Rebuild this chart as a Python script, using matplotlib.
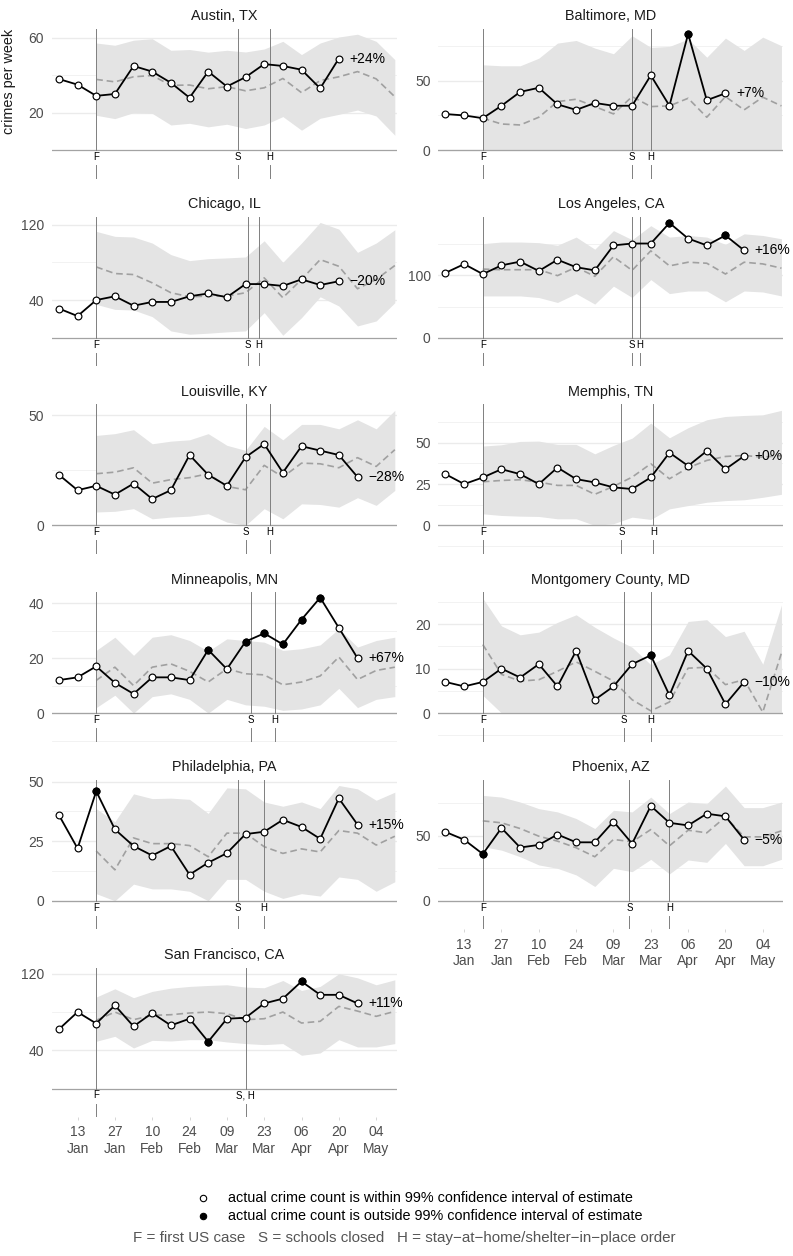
import pandas as pd
import matplotlib
matplotlib.use('Agg')
import matplotlib.pyplot as plt
import matplotlib.dates as mdates
from matplotlib.lines import Line2D

plt.rcParams['font.family'] = ['Liberation Sans', 'DejaVu Sans']

# weekly x positions (first actual count = week of 6 Jan 2020), ticks every 2 weeks
week_dates = pd.date_range('2020-01-06', '2020-05-11', freq='7D')
tick_dates = pd.date_range('2020-01-13', '2020-05-04', freq='14D')

# ---- data ---------------------------------------------------------------
# actual weekly counts start on 6 Jan; expected / interval start on 20 Jan (F)
austin_actual = [38, 35, 29, 30, 45, 42, 36, 28, 42, 34, 39, 46, 45, 43, 33, 49]
austin_outside = []
austin_expected = [37.8, 36.5, 39.2, 39.9, 34.6, 34.8, 32.8, 33.9, 31.7, 33.3, 38.3, 30.7, 37.2, 39.2, 42.0, 38.1, 28.5]
austin_high = [57.3, 56.1, 58.8, 59.6, 53.4, 53.8, 52.4, 53.4, 52.5, 54.1, 58.2, 51.1, 57.3, 60.5, 62.0, 58.2, 48.4]
austin_low = [18.6, 16.8, 20.0, 19.6, 13.4, 14.3, 12.4, 13.8, 11.5, 13.4, 17.9, 10.6, 17.0, 19.1, 21.4, 18.2, 7.9]
austin_events = [('F', '2020-01-20'), ('S', '2020-03-13'), ('H', '2020-03-25')]

baltimore_actual = [26, 25, 23, 32, 42, 45, 33, 29, 34, 32, 32, 54, 32, 84, 36, 41]
baltimore_outside = [13]
baltimore_expected = [23.0, 18.8, 18.1, 23.7, 35.0, 36.7, 31.4, 26.1, 38.6, 31.4, 31.9, 37.4, 23.7, 38.6, 29.0, 38.2, 31.9]
baltimore_high = [61.6, 60.9, 60.9, 66.4, 77.3, 79.2, 73.7, 69.6, 82.6, 74.2, 74.9, 80.2, 67.1, 80.9, 72.0, 81.6, 75.4]
baltimore_low = [0, 0, 0, 0, 0, 0, 0, 0, 0, 0, 0, 0, 0, 0, 0, 0, 0]
baltimore_events = [('F', '2020-01-20'), ('S', '2020-03-16'), ('H', '2020-03-23')]

chicago_actual = [31, 23, 40, 44, 34, 38, 38, 44, 47, 43, 57, 57, 55, 62, 56, 60]
chicago_outside = []
chicago_expected = [75.2, 68.2, 67.1, 58.3, 47.8, 43.5, 44.2, 44.2, 47.8, 63.6, 42.5, 61.9, 83.0, 75.9, 52.0, 61.9, 76.7]
chicago_high = [113.0, 107.7, 107.0, 100.6, 88.3, 81.9, 84.0, 84.8, 85.8, 103.0, 80.2, 100.6, 122.5, 115.4, 90.7, 100.6, 114.7]
chicago_low = [35.4, 30.1, 29.4, 22.4, 7.2, 3.7, 4.8, 6.2, 7.2, 26.6, 2.6, 21.3, 43.5, 33.7, 12.5, 17.8, 37.2]
chicago_events = [('F', '2020-01-20'), ('S', '2020-03-17'), ('H', '2020-03-21')]

la_actual = [104, 118, 102, 116, 122, 107, 125, 113, 108, 148, 151, 151, 184, 159, 148, 164, 140]
la_outside = [12, 15]
la_expected = [110, 109, 109, 109, 99.5, 113, 98.4, 129.8, 107.9, 139.3, 115.2, 121, 119.4, 102.1, 121, 118.3, 111.5]
la_high = [150.8, 153.4, 153.4, 152.4, 148.2, 161.3, 141.9, 171.7, 157.1, 179.6, 161.3, 163.9, 161.3, 149.7, 166.5, 163.9, 158.6]
la_low = [67, 67, 67, 64.4, 56.5, 70.7, 53.9, 82.7, 64.4, 93.2, 70.7, 74.9, 74.9, 57.6, 74.9, 73.3, 67]
la_events = [('F', '2020-01-20'), ('S', '2020-03-16'), ('H', '2020-03-19')]

louisville_actual = [23, 16, 18, 14, 19, 12, 16, 32, 23, 18, 31, 37, 24, 36, 34, 32, 22]
louisville_outside = []
louisville_expected = [23.5, 24.2, 26.2, 19.2, 20.8, 21.7, 23.5, 17.7, 16.2, 27.3, 22.0, 28.3, 28.0, 26.2, 30.8, 26.8, 34.4]
louisville_high = [40.9, 41.7, 43.5, 37.1, 38.3, 38.9, 41.7, 36.4, 34.1, 45.0, 38.9, 45.9, 45.9, 43.9, 48.0, 43.9, 52.3]
louisville_low = [6.1, 6.4, 7.6, 3.0, 3.8, 4.2, 5.3, 1.5, 0.0, 7.6, 3.0, 9.8, 9.5, 8.3, 12.6, 9.1, 15.9]
louisville_events = [('F', '2020-01-20'), ('S', '2020-03-16'), ('H', '2020-03-25')]

memphis_actual = [31, 25, 29, 34, 31, 25, 35, 28, 26, 23, 22, 29, 44, 36, 45, 34, 42]
memphis_outside = []
memphis_expected = [26.4, 27.2, 27.6, 26.2, 24.2, 24.2, 18.8, 23.6, 29.2, 37.3, 28.2, 34.9, 39.3, 41.7, 42.3, 41.3, 42.3]
memphis_high = [48.0, 48.8, 50.8, 51.0, 49.0, 49.0, 43.3, 48.4, 52.8, 61.9, 53.0, 59.1, 63.9, 65.9, 66.5, 66.9, 69.6]
memphis_low = [7.0, 6.0, 5.6, 5.4, 4.0, 4.0, 0.0, 1.0, 5.0, 3.6, 10.0, 12.0, 14.0, 15.0, 15.5, 17.0, 18.8]
memphis_events = [('F', '2020-01-20'), ('S', '2020-03-12'), ('H', '2020-03-24')]

minneapolis_actual = [12, 13, 17, 11, 7, 13, 13, 12, 23, 16, 26, 29, 25, 34, 42, 31, 20]
minneapolis_outside = [8, 10, 11, 12, 13, 14]
minneapolis_expected = [11.9, 16.7, 10.0, 16.7, 17.9, 15.2, 11.3, 16.1, 14.3, 13.9, 10.3, 11.3, 13.5, 20.4, 12.2, 15.5, 16.7]
minneapolis_high = [22.8, 27.6, 21.0, 27.6, 28.5, 26.4, 22.5, 27.0, 26.4, 25.8, 22.8, 23.4, 24.8, 30.7, 24.0, 26.4, 27.6]
minneapolis_low = [2.0, 6.5, 0.0, 6.0, 7.0, 5.0, 0.0, 5.0, 3.0, 2.5, 1.0, 1.5, 3.0, 9.0, 2.0, 5.0, 6.0]
minneapolis_events = [('F', '2020-01-20'), ('S', '2020-03-18'), ('H', '2020-03-27')]

montgomery_actual = [7, 6, 7, 10, 8, 11, 6, 14, 3, 6, 11, 13, 4, 14, 10, 2, 7]
montgomery_outside = [11]
montgomery_expected = [15.4, 8.7, 7.2, 7.5, 9.4, 11.5, 9.4, 7.2, 3.0, 0.5, 2.5, 10.1, 10.3, 6.4, 7.5, 0.2, 13.5]
montgomery_high = [25.8, 19.6, 17.6, 18.2, 20.4, 22.1, 19.3, 16.9, 14.8, 10.9, 13.1, 20.6, 21.0, 17.2, 18.4, 11.0, 24.3]
montgomery_low = [4.0, 0, 0, 0, 0, 0, 0, 0, 0, 0, 0, 0, 0, 0, 0, 0, 0]
montgomery_events = [('F', '2020-01-20'), ('S', '2020-03-13'), ('H', '2020-03-23')]

philadelphia_actual = [36, 22, 46, 30, 23, 19, 23, 11, 16, 20, 28, 29, 34, 31, 26, 43, 32]
philadelphia_outside = [2]
philadelphia_expected = [20.9, 13.0, 26.4, 24.0, 24.0, 23.2, 18.5, 28.4, 28.4, 22.7, 19.9, 21.8, 20.5, 29.5, 28.4, 23.4, 27.1]
philadelphia_high = [38.7, 33.2, 44.9, 42.9, 43.1, 42.6, 36.7, 47.4, 47.0, 41.5, 39.7, 41.5, 38.7, 48.4, 47.0, 42.2, 45.6]
philadelphia_low = [3, 0, 7, 5, 5, 4, 0, 9, 9, 4, 1, 3, 2, 10, 9, 4, 8]
philadelphia_events = [('F', '2020-01-20'), ('S', '2020-03-13'), ('H', '2020-03-23')]

phoenix_actual = [53, 47, 36, 56, 41, 43, 51, 45, 45, 61, 44, 73, 60, 58, 67, 65, 47]
phoenix_outside = [2]
phoenix_expected = [61.5, 60.0, 55.6, 49.7, 45.9, 40.8, 33.9, 47.2, 45.4, 54.8, 42.3, 54.3, 52.3, 64.5, 49.2, 49.2, 53.8]
phoenix_high = [81.1, 79.8, 76.0, 70.9, 68.4, 63.3, 55.6, 69.6, 68.4, 79.8, 67.1, 76.0, 74.7, 88.3, 71.7, 71.7, 76.0]
phoenix_low = [41.6, 39.0, 33.9, 27.6, 25.0, 19.9, 11.0, 25.0, 22.4, 31.9, 20.7, 31.4, 29.6, 44.1, 27.0, 27.0, 31.9]
phoenix_events = [('F', '2020-01-20'), ('S', '2020-03-15'), ('H', '2020-03-30')]

sf_actual = [62, 80, 68, 87, 65, 79, 66, 73, 49, 73, 74, 89, 94, 112, 98, 98, 89]
sf_outside = [8, 13]
sf_expected = [71.3, 80.0, 72.0, 76.5, 77.2, 79.0, 80.0, 78.3, 72.0, 73.0, 80.0, 68.5, 70.3, 85.9, 81.0, 75.5, 80.7]
sf_high = [95.7, 104.3, 95.0, 101.6, 105.0, 106.8, 107.8, 108.5, 106.1, 105.4, 113.0, 102.6, 106.8, 120.0, 115.8, 108.5, 113.7]
sf_low = [49.4, 54.6, 42.4, 50.4, 49.7, 51.1, 51.1, 48.7, 47.0, 45.9, 47.0, 34.8, 37.2, 51.1, 43.5, 43.5, 47.0]
sf_events = [('F', '2020-01-20'), ('S, H', '2020-03-16')]

# change labels shown at the end of each series
change_labels = ['+24%', '+7%', '\u221220%', '+16%', '\u221228%', '+0%',
                 '+67%', '\u221210%', '+15%', '\u22125%', '+11%']

# (title, actual, outside, expected, high, low, events, ymax, major, minor)
panels = [
    ('Austin, TX', austin_actual, austin_outside, austin_expected, austin_high, austin_low,
     austin_events, 64.8, [20, 60], [0, 40]),
    ('Baltimore, MD', baltimore_actual, baltimore_outside, baltimore_expected, baltimore_high,
     baltimore_low, baltimore_events, 87.5, [0, 50], [25, 75]),
    ('Chicago, IL', chicago_actual, chicago_outside, chicago_expected, chicago_high, chicago_low,
     chicago_events, 128.6, [40, 120], [0, 80]),
    ('Los Angeles, CA', la_actual, la_outside, la_expected, la_high, la_low,
     la_events, 194, [0, 100], [50, 150]),
    ('Louisville, KY', louisville_actual, louisville_outside, louisville_expected, louisville_high,
     louisville_low, louisville_events, 55, [0, 50], [25]),
    ('Memphis, TN', memphis_actual, memphis_outside, memphis_expected, memphis_high, memphis_low,
     memphis_events, 73.2, [0, 25, 50], [-12.5, 12.5, 37.5, 62.5]),
    ('Minneapolis, MN', minneapolis_actual, minneapolis_outside, minneapolis_expected,
     minneapolis_high, minneapolis_low, minneapolis_events, 44, [0, 20, 40], [-10, 10, 30]),
    ('Montgomery County, MD', montgomery_actual, montgomery_outside, montgomery_expected,
     montgomery_high, montgomery_low, montgomery_events, 27.2, [0, 10, 20], [-5, 5, 15, 25]),
    ('Philadelphia, PA', philadelphia_actual, philadelphia_outside, philadelphia_expected,
     philadelphia_high, philadelphia_low, philadelphia_events, 50.8, [0, 25, 50], [12.5, 37.5]),
    ('Phoenix, AZ', phoenix_actual, phoenix_outside, phoenix_expected, phoenix_high, phoenix_low,
     phoenix_events, 93.1, [0, 50], [25, 75]),
    ('San Francisco, CA', sf_actual, sf_outside, sf_expected, sf_high, sf_low,
     sf_events, 126.6, [40, 120], [0, 80]),
]

# ---- layout (pixels) -----------------------------------------------------
W, H = 793, 1256
col_x = [51.7, 438.3]
panel_w = 345
above, below = 121, 28.5          # panel extent above / below the zero line
panel_h = above + below
zero_frac = below / panel_h
gap_frac = (below - 15) / panel_h
letter_frac = (below - 7) / panel_h

x = mdates.date2num(week_dates.to_pydatetime())
xlim = (x[0] - 2.7, x[-1] + 0.7)

fig = plt.figure(figsize=(W / 100, H / 100), dpi=100)

for k, (title, actual, outside, expected, high, low, events, ymax, major, minor) in enumerate(panels):
    col, row = k % 2, k // 2
    zero_y = 150 + 187.7 * row
    ax = fig.add_axes([col_x[col] / W, 1 - (zero_y + below) / H, panel_w / W, panel_h / H])
    ymin = -ymax * below / above
    ax.set_xlim(*xlim)
    ax.set_ylim(ymin, ymax)
    for s in ax.spines.values():
        s.set_visible(False)

    for v in minor:
        ax.axhline(v, color='#f0f0f0', lw=0.6, zorder=0)
    for v in major:
        ax.axhline(v, color='#ebebeb', lw=1.0, zorder=0)

    xe = x[2:]
    ax.fill_between(xe, low, high, color='#e4e4e4', lw=0, zorder=1)
    ax.plot(xe, expected, color='#a0a0a0', lw=1.2, ls=(0, (4, 2.3)), zorder=2)
    ax.axhline(0, color='#a3a3a3', lw=0.9, zorder=2.2)

    tr = ax.get_xaxis_transform()
    for lab, d in events:
        dx = mdates.date2num(pd.Timestamp(d).to_pydatetime())
        ax.axvline(dx, ymin=zero_frac, ymax=1, color='#7f7f7f', lw=0.7, zorder=2.5)
        ax.axvline(dx, ymin=0, ymax=gap_frac, color='#7f7f7f', lw=0.7, zorder=2.5)
        ax.text(dx, letter_frac, lab, transform=tr, ha='center', va='center',
                fontsize=7, color='black')

    xa = x[:len(actual)]
    ax.plot(xa, actual, color='black', lw=1.3, zorder=4)
    ax.plot(xa, actual, 'o', ms=4.9, mfc='white', mec='black', mew=0.85, zorder=5)
    if outside:
        ax.plot(xa[outside], [actual[i] for i in outside], 'o', ms=4.9,
                mfc='black', mec='black', mew=0.85, zorder=6)
    ax.text(xa[-1] + 4, actual[-1], change_labels[k], ha='left', va='center',
            fontsize=10, color='black', clip_on=False, zorder=7)

    ax.text(0.5, 1 + 8.5 / panel_h, title, transform=ax.transAxes, ha='center',
            va='baseline', fontsize=10.4, color='#1a1a1a')

    ax.set_yticks(major)
    ax.set_yticklabels([str(v) for v in major])
    ax.tick_params(axis='y', length=0, pad=5.5, labelsize=10, labelcolor='#4d4d4d')

    bottom_row = (col == 0 and row == 5) or (col == 1 and row == 4)
    if bottom_row:
        ax.set_xticks(mdates.date2num(tick_dates.to_pydatetime()))
        ax.set_xticklabels([d.strftime('%d\n%b') for d in tick_dates], linespacing=1.2)
        ax.tick_params(axis='x', length=2.5, width=0.6, color='#d0d0d0', pad=3.5,
                       labelsize=10, labelcolor='#4d4d4d')
    else:
        ax.set_xticks([])

fig.text(9 / W, 1 - 81 / H, 'crimes per week', rotation=90, ha='center', va='center',
         fontsize=10.4, color='#1a1a1a')

# legend
legend_rows = [('white', 'actual crime count is within 99% confidence interval of estimate'),
               ('black', 'actual crime count is outside 99% confidence interval of estimate')]
for j, (fc, txt) in enumerate(legend_rows):
    yy = 1 - (1198.3 + 17.7 * j) / H
    fig.add_artist(Line2D([203.3 / W], [yy], marker='o', ms=4.6, mfc=fc, mec='black',
                          mew=0.8, ls='none', transform=fig.transFigure))
    fig.text(227.7 / W, yy, txt, ha='left', va='center', fontsize=10.4, color='black')

fig.text(404.5 / W, 1 - 1238.3 / H,
         'F = first US case   S = schools closed   H = stay\u2212at\u2212home/shelter\u2212in\u2212place order',
         ha='center', va='center', fontsize=10.9, color='#555555')

fig.savefig('out.png', dpi=100, facecolor='white')
